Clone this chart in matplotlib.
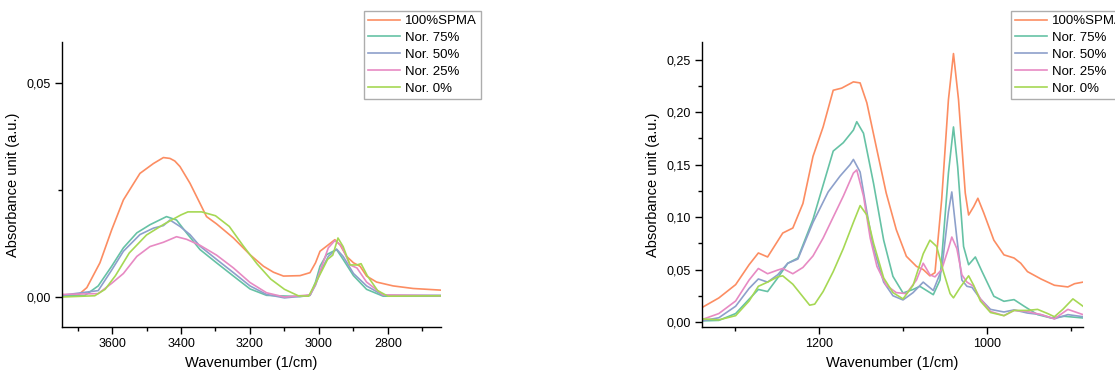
import matplotlib
matplotlib.use("Agg")
import matplotlib.pyplot as plt
from matplotlib.ticker import MultipleLocator, FuncFormatter

plt.rcParams['font.family'] = ['Liberation Sans', 'DejaVu Sans']

# ---- series names and colours ----
labels = ['100%SPMA', 'Nor. 75%', 'Nor. 50%', 'Nor. 25%', 'Nor. 0%']
colors = ['#fc8d62', '#66c2a5', '#8da0cb', '#e78ac3', '#a6d854']

# ---- left panel: O-H / C-H region ----
wn_spma_oh = [3747, 3702, 3673, 3635, 3601, 3567, 3540, 3519, 3480, 3451, 3432, 3418, 3403, 3374,
              3345, 3326, 3297, 3248, 3200, 3161, 3132, 3103, 3055, 3026, 3010, 2997, 2973, 2954,
              2939, 2920, 2900, 2881, 2862, 2833, 2785, 2727, 2644]
ab_spma_oh = [0.0006, 0.0002, 0.0022, 0.0080, 0.0157, 0.0227, 0.0262, 0.0289, 0.0312, 0.0326,
              0.0324, 0.0318, 0.0305, 0.0266, 0.0219, 0.0188, 0.0171, 0.0138, 0.0099, 0.0072,
              0.0058, 0.0049, 0.0050, 0.0057, 0.0080, 0.0107, 0.0122, 0.0134, 0.0122, 0.0095,
              0.0080, 0.0072, 0.0049, 0.0035, 0.0026, 0.0020, 0.0016]

wn_75_oh = [3747, 3680, 3640, 3601, 3567, 3528, 3490, 3442, 3413, 3384, 3345, 3297, 3248, 3200,
            3152, 3055, 3026, 3010, 2997, 2978, 2949, 2930, 2900, 2862, 2814, 2644]
ab_75_oh = [0.0003, 0.0003, 0.0026, 0.0072, 0.0115, 0.0150, 0.0169, 0.0188, 0.0180, 0.0150,
            0.0111, 0.0080, 0.0049, 0.0019, 0.0004, 0.0001, 0.0004, 0.0035, 0.0072, 0.0099,
            0.0111, 0.0088, 0.0050, 0.0018, 0.0002, 0.0002]

wn_50_oh = [3747, 3640, 3601, 3567, 3519, 3480, 3451, 3432, 3403, 3374, 3345, 3297, 3248, 3200,
            3152, 3100, 3026, 3010, 2997, 2973, 2949, 2930, 2900, 2862, 2814, 2644]
ab_50_oh = [0.0004, 0.0015, 0.0063, 0.0107, 0.0146, 0.0161, 0.0167, 0.0180, 0.0165, 0.0146,
            0.0119, 0.0088, 0.0057, 0.0026, 0.0006, -0.0002, 0.0004, 0.0028, 0.0057, 0.0095,
            0.0112, 0.0095, 0.0055, 0.0026, 0.0004, 0.0004]

wn_25_oh = [3747, 3640, 3601, 3567, 3528, 3490, 3451, 3413, 3384, 3345, 3297, 3248, 3200, 3152,
            3100, 3026, 3010, 2997, 2973, 2954, 2935, 2910, 2890, 2862, 2814, 2644]
ab_25_oh = [0.0006, 0.0008, 0.0032, 0.0055, 0.0095, 0.0118, 0.0128, 0.0141, 0.0135, 0.0121,
            0.0098, 0.0068, 0.0034, 0.0010, 0.0000, 0.0005, 0.0030, 0.0060, 0.0115, 0.0132,
            0.0120, 0.0075, 0.0068, 0.0035, 0.0005, 0.0003]

wn_0_oh = [3747, 3650, 3620, 3590, 3550, 3500, 3450, 3400, 3380, 3340, 3300, 3260, 3220, 3180,
           3140, 3100, 3060, 3030, 3000, 2975, 2960, 2945, 2930, 2910, 2890, 2878, 2860, 2830,
           2800, 2644]
ab_0_oh = [0.0000, 0.0003, 0.0018, 0.0050, 0.0103, 0.0145, 0.0170, 0.0192, 0.0199, 0.0199,
           0.0190, 0.0165, 0.0120, 0.0078, 0.0042, 0.0018, 0.0003, 0.0002, 0.0048, 0.0088,
           0.0098, 0.0138, 0.0118, 0.0075, 0.0075, 0.0078, 0.0050, 0.0015, 0.0002, 0.0003]

# ---- right panel: fingerprint region ----
wn_spma_fp = [1340, 1319, 1299, 1283, 1272, 1261, 1243, 1231, 1219, 1207, 1195, 1183, 1173,
              1159, 1151, 1143, 1131, 1120, 1108, 1096, 1084, 1076, 1068, 1062, 1054, 1046,
              1040, 1034, 1026, 1022, 1016, 1011, 1004, 992, 980, 968, 960, 952, 936, 920,
              904, 896, 886]
ab_spma_fp = [0.0133, 0.0229, 0.0356, 0.0546, 0.0658, 0.0620, 0.0848, 0.0896, 0.113, 0.158,
              0.186, 0.221, 0.223, 0.229, 0.228, 0.209, 0.164, 0.123, 0.088, 0.0626, 0.053,
              0.050, 0.044, 0.047, 0.117, 0.212, 0.256, 0.212, 0.123, 0.102, 0.110, 0.118,
              0.104, 0.078, 0.064, 0.061, 0.056, 0.048, 0.041, 0.035, 0.0334, 0.0365, 0.038]

wn_75_fp = [1340, 1319, 1299, 1285, 1272, 1261, 1249, 1237, 1225, 1207, 1183, 1171, 1159, 1155,
            1147, 1135, 1123, 1112, 1100, 1088, 1080, 1064, 1056, 1046, 1040, 1035, 1028, 1022,
            1014, 1006, 992, 980, 968, 956, 940, 924, 908, 886]
ab_75_fp = [0.001, 0.0015, 0.008, 0.020, 0.031, 0.029, 0.042, 0.056, 0.061, 0.098, 0.163, 0.171,
            0.183, 0.191, 0.180, 0.132, 0.078, 0.0435, 0.0276, 0.031, 0.034, 0.026, 0.040, 0.142,
            0.186, 0.148, 0.072, 0.0546, 0.062, 0.048, 0.0245, 0.0197, 0.0213, 0.015, 0.007,
            0.0038, 0.0054, 0.0038]

wn_50_fp = [1340, 1319, 1299, 1283, 1272, 1261, 1249, 1237, 1225, 1207, 1189, 1175, 1163, 1159,
            1151, 1143, 1135, 1123, 1112, 1100, 1088, 1076, 1064, 1054, 1046, 1042, 1036, 1030,
            1024, 1018, 1008, 996, 980, 968, 952, 936, 920, 904, 886]
ab_50_fp = [0.001, 0.004, 0.015, 0.032, 0.041, 0.038, 0.045, 0.056, 0.060, 0.095, 0.124, 0.139,
            0.150, 0.155, 0.143, 0.105, 0.070, 0.038, 0.025, 0.021, 0.028, 0.038, 0.030, 0.050,
            0.105, 0.124, 0.080, 0.040, 0.034, 0.033, 0.022, 0.012, 0.0095, 0.0115, 0.0085,
            0.007, 0.003, 0.007, 0.005]

wn_25_fp = [1340, 1319, 1299, 1283, 1272, 1261, 1249, 1243, 1231, 1219, 1207, 1195, 1183, 1171,
            1159, 1155, 1147, 1139, 1131, 1120, 1108, 1096, 1084, 1076, 1068, 1062, 1054, 1046,
            1042, 1036, 1030, 1024, 1016, 1008, 996, 980, 968, 952, 936, 920, 904, 886]
ab_25_fp = [0.002, 0.008, 0.020, 0.040, 0.051, 0.046, 0.0495, 0.051, 0.046, 0.052, 0.063, 0.080,
            0.100, 0.120, 0.142, 0.145, 0.120, 0.080, 0.053, 0.035, 0.028, 0.027, 0.040, 0.056,
            0.045, 0.043, 0.050, 0.070, 0.081, 0.070, 0.045, 0.038, 0.034, 0.022, 0.010, 0.006,
            0.011, 0.010, 0.007, 0.003, 0.012, 0.007]

wn_0_fp = [1340, 1319, 1299, 1283, 1272, 1261, 1249, 1243, 1231, 1219, 1211, 1205, 1195, 1183,
           1171, 1159, 1151, 1143, 1135, 1123, 1112, 1100, 1088, 1076, 1068, 1060, 1052, 1044,
           1040, 1032, 1022, 1016, 1008, 996, 980, 968, 952, 940, 928, 920, 910, 898, 886]
ab_0_fp = [0.003, 0.002, 0.006, 0.020, 0.034, 0.038, 0.043, 0.044, 0.036, 0.024, 0.016, 0.017,
           0.029, 0.048, 0.070, 0.095, 0.111, 0.102, 0.075, 0.042, 0.028, 0.022, 0.035, 0.065,
           0.078, 0.072, 0.048, 0.027, 0.023, 0.033, 0.044, 0.035, 0.020, 0.009, 0.006, 0.011,
           0.011, 0.012, 0.008, 0.005, 0.012, 0.022, 0.015]

left_x = [wn_spma_oh, wn_75_oh, wn_50_oh, wn_25_oh, wn_0_oh]
left_y = [ab_spma_oh, ab_75_oh, ab_50_oh, ab_25_oh, ab_0_oh]
right_x = [wn_spma_fp, wn_75_fp, wn_50_fp, wn_25_fp, wn_0_fp]
right_y = [ab_spma_fp, ab_75_fp, ab_50_fp, ab_25_fp, ab_0_fp]


def comma(v, pos):
    return ('%.2f' % v).replace('.', ',')


def style_axes(ax):
    for side in ['top', 'right']:
        ax.spines[side].set_visible(False)
    for side in ['left', 'bottom']:
        ax.spines[side].set_linewidth(1.0)
    ax.tick_params(which='major', direction='out', length=5, width=1, labelsize=9, pad=3)
    ax.tick_params(which='minor', direction='out', length=3, width=1)
    ax.yaxis.set_major_formatter(FuncFormatter(comma))
    ax.set_xlabel('Wavenumber (1/cm)', fontsize=10.5, labelpad=4)
    ax.set_ylabel('Absorbance unit (a.u.)', fontsize=10.5, labelpad=5)


fig = plt.figure(figsize=(11.15, 3.72), dpi=100)
ax1 = fig.add_axes([0.0556, 0.121, 0.340, 0.766])
ax2 = fig.add_axes([0.6296, 0.121, 0.3417, 0.766])

for xs, ys, lab, col in zip(left_x, left_y, labels, colors):
    ax1.plot(xs, ys, color=col, lw=1.2, label=lab, solid_joinstyle='round')
for xs, ys, lab, col in zip(right_x, right_y, labels, colors):
    ax2.plot(xs, ys, color=col, lw=1.2, label=lab, solid_joinstyle='round')

ax1.set_xlim(3745, 2646)
ax1.set_ylim(-0.007, 0.0596)
ax1.xaxis.set_major_locator(MultipleLocator(200))
ax1.xaxis.set_minor_locator(MultipleLocator(100))
ax1.yaxis.set_major_locator(MultipleLocator(0.05))
ax1.yaxis.set_minor_locator(MultipleLocator(0.025))

ax2.set_xlim(1339, 886)
ax2.set_ylim(-0.0048, 0.267)
ax2.xaxis.set_major_locator(MultipleLocator(200))
ax2.xaxis.set_minor_locator(MultipleLocator(100))
ax2.yaxis.set_major_locator(MultipleLocator(0.05))
ax2.yaxis.set_minor_locator(MultipleLocator(0.025))

style_axes(ax1)
style_axes(ax2)

leg_kw = dict(fontsize=9.5, frameon=True, fancybox=False, handlelength=2.4,
              handletextpad=0.4, labelspacing=0.35, borderpad=0.3, borderaxespad=0)
leg1 = ax1.legend(loc='upper right', bbox_to_anchor=(481 / 1115, 1 - 11 / 372),
                  bbox_transform=fig.transFigure, **leg_kw)
leg2 = ax2.legend(loc='upper left', bbox_to_anchor=(1011 / 1115, 1 - 11 / 372),
                  bbox_transform=fig.transFigure, **leg_kw)
for leg in (leg1, leg2):
    leg.get_frame().set_edgecolor('#999999')
    leg.get_frame().set_linewidth(1.0)
    leg.set_clip_on(False)

fig.savefig('out.png', dpi=100)
